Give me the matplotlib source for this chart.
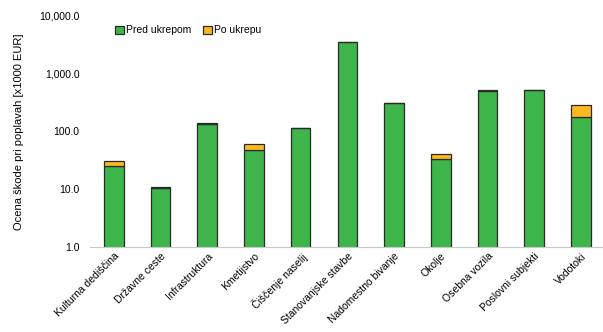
import numpy as np
import matplotlib
matplotlib.use("Agg")
import matplotlib.pyplot as plt
from matplotlib.ticker import FuncFormatter

plt.rcParams['font.family'] = ['Liberation Sans', 'DejaVu Sans']

categories = ["Kulturna dediščina", "Državne ceste", "Infrastruktura", "Kmetijstvo",
              "Čiščenje naselij", "Stanovanjske stavbe", "Nadomestno bivanje", "Okolje",
              "Osebna vozila", "Poslovni subjekti", "Vodotoki"]
pred_ukrepom = [24.8, 10.7, 135, 48, 114, 3500, 305, 33.5, 505, 520, 175]
po_ukrepu = [6.5, 0.3, 4, 13, 3, 60, 8, 7.5, 8, 10, 110]

fig = plt.figure(figsize=(6.03, 3.32), dpi=100)
ax = fig.add_axes([0.150, 0.256, 0.852, 0.696])

x = np.arange(len(categories))
w = 0.42
ax.bar(x, pred_ukrepom, w, color='#3db54a', edgecolor='#2a2a2a', linewidth=0.9,
       label='Pred ukrepom', log=True)
ax.bar(x, po_ukrepu, w, bottom=pred_ukrepom, color='#fbb91f', edgecolor='#2a2a2a',
       linewidth=0.9, label='Po ukrepu', log=True)

ax.set_yscale('log')
ax.set_ylim(1, 10000)
ax.set_xlim(-0.5, len(categories) - 0.5)
ax.yaxis.set_major_formatter(FuncFormatter(lambda v, p: f"{v:,.1f}"))
ax.yaxis.set_minor_locator(matplotlib.ticker.NullLocator())
ax.tick_params(axis='y', length=0, labelsize=7.5, pad=8)
ax.tick_params(axis='x', length=0, labelsize=7.5, pad=3)
ax.set_xticks(x)
ax.set_xticklabels(categories, rotation=45, ha='right', rotation_mode='anchor')

for s in ['top', 'right', 'left']:
    ax.spines[s].set_visible(False)
ax.spines['bottom'].set_color('#c8c8c8')

ax.set_ylabel("Ocena škode pri poplavah [x1000 EUR]", fontsize=8, labelpad=11)

ax.legend(loc='upper left', bbox_to_anchor=(0.03, 1.0), ncol=2, frameon=False,
          fontsize=7.5, handlelength=0.8, handleheight=0.8, handletextpad=0.2,
          columnspacing=1.2)

fig.savefig("out.png", dpi=100)
